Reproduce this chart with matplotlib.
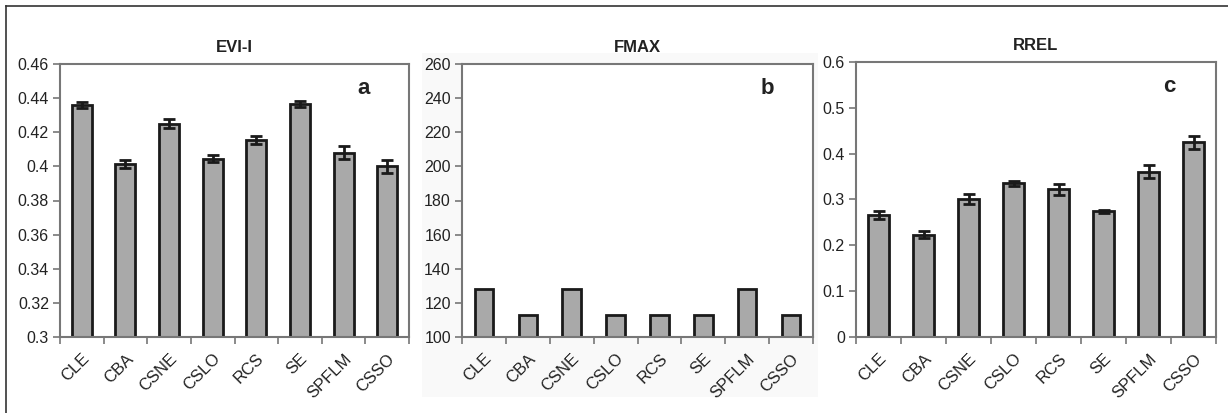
import matplotlib
matplotlib.use("Agg")
import matplotlib.pyplot as plt
from matplotlib.lines import Line2D
from matplotlib.patches import Rectangle
import numpy as np

plt.rcParams['font.family'] = ['Liberation Sans', 'DejaVu Sans']

sites = ["CLE", "CBA", "CSNE", "CSLO", "RCS", "SE", "SPFLM", "CSSO"]

evi_mean = [0.436, 0.4015, 0.425, 0.4045, 0.4155, 0.4365, 0.408, 0.400]
evi_err = [0.0018, 0.0022, 0.0028, 0.0022, 0.0024, 0.0017, 0.0038, 0.0038]

fmax_mean = [128, 113, 128, 113, 113, 113, 128, 113]

rrel_mean = [0.266, 0.2235, 0.301, 0.335, 0.322, 0.274, 0.361, 0.425]
rrel_err = [0.009, 0.007, 0.011, 0.005, 0.012, 0.004, 0.014, 0.014]

W, H = 1228, 413
fig = plt.figure(figsize=(W / 100, H / 100), dpi=100)

# outer frame (top and left edges)
fig.add_artist(Line2D([6 / W, 6 / W], [0, 1 - 6 / H], transform=fig.transFigure,
                      color='#333333', lw=1.2))
fig.add_artist(Line2D([6 / W, 1], [1 - 6 / H, 1 - 6 / H], transform=fig.transFigure,
                      color='#333333', lw=1.2))

# faint background behind middle panel
fig.add_artist(Rectangle((422 / W, 1 - 397 / H), (818 - 422) / W, (397 - 53) / H,
                         transform=fig.transFigure, facecolor='#f9f9f9',
                         edgecolor='none', zorder=0))


def px_axes(left, top, right, bottom):
    return fig.add_axes([left / W, 1 - bottom / H, (right - left) / W, (bottom - top) / H])


panels = [
    dict(box=(60, 64, 409, 337), title="EVI-I", letter="a", vals=evi_mean, err=evi_err,
         ylim=(0.3, 0.46), ticks=np.arange(0.30, 0.4601, 0.02),
         fmt=lambda v: f"{v:.2f}".rstrip('0').rstrip('.'), width=0.46),
    dict(box=(462, 64, 813, 337), title="FMAX", letter="b", vals=fmax_mean, err=None,
         ylim=(100, 260), ticks=np.arange(100, 261, 20),
         fmt=lambda v: f"{int(round(v))}", width=0.42),
    dict(box=(856, 62, 1216, 337), title="RREL", letter="c", vals=rrel_mean, err=rrel_err,
         ylim=(0, 0.6), ticks=np.arange(0, 0.601, 0.1),
         fmt=lambda v: "0" if abs(v) < 1e-9 else f"{v:.1f}", width=0.46),
]

x = np.arange(len(sites))
for p in panels:
    ax = px_axes(*p['box'])
    ax.set_facecolor('white')
    bottom = p['ylim'][0]
    heights = np.array(p['vals']) - bottom
    ax.bar(x, heights, bottom=bottom, width=p['width'], color='#a9a9a9',
           edgecolor='#1a1a1a', linewidth=2.0, zorder=2)
    if p['err'] is not None:
        ax.errorbar(x, p['vals'], yerr=p['err'], fmt='none', ecolor='#1a1a1a',
                    elinewidth=2.0, capsize=4.5, capthick=2.0, zorder=3)
    ax.set_xlim(-0.5, len(sites) - 0.5)
    ax.set_ylim(*p['ylim'])
    ax.set_yticks(p['ticks'])
    ax.set_yticklabels([p['fmt'](v) for v in p['ticks']])
    ax.set_xticks(x)
    ax.set_xticklabels(sites, rotation=45, ha='right', rotation_mode='anchor')
    ax.set_xticks(np.arange(-0.5, len(sites)), minor=True)
    ax.tick_params(axis='x', which='major', length=0, pad=10, labelsize=12, labelcolor='#222222')
    ax.tick_params(axis='x', which='minor', length=5, width=1.2, color='#777777', direction='out')
    ax.tick_params(axis='y', length=5, width=1.2, color='#777777', direction='out',
                   labelsize=11.5, labelcolor='#222222', pad=3)
    for s in ax.spines.values():
        s.set_color('#777777')
        s.set_linewidth(1.5)
    ax.set_title(p['title'], fontsize=12, fontweight='bold', color='#222222', pad=9)
    ax.text(0.87, 0.91, p['letter'], transform=ax.transAxes, fontsize=16,
            fontweight='bold', color='#222222', ha='center', va='center')

fig.savefig("out.png", dpi=100)
